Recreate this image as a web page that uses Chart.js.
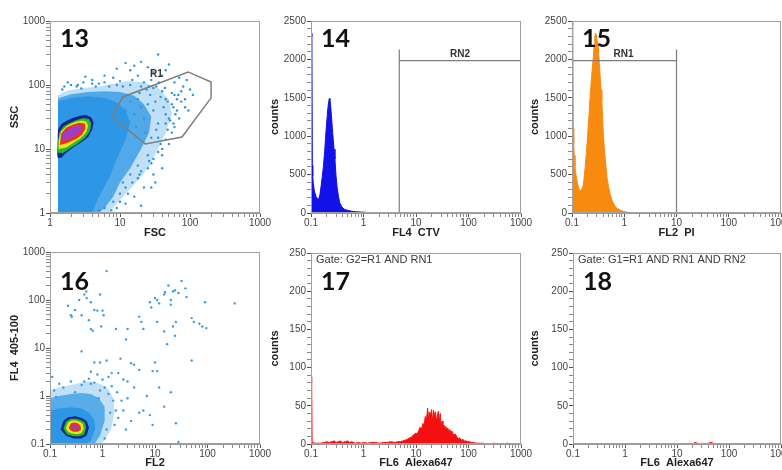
<!DOCTYPE html>
<html>
<head>
<meta charset="utf-8">
<script src="https://cdn.jsdelivr.net/npm/chart.js@4.4.1/dist/chart.umd.min.js"></script>
<style>
  html, body { margin: 0; padding: 0; background: #fff; overflow: hidden; width: 782px; height: 470px; position: relative; }
  canvas { position: absolute; }
</style>
</head>
<body>
<canvas id="c13" width="280" height="240" style="left:0px;top:0px"></canvas>
<canvas id="c14" width="280" height="240" style="left:260px;top:0px"></canvas>
<canvas id="c15" width="290" height="240" style="left:520px;top:0px"></canvas>
<canvas id="c16" width="280" height="230" style="left:0px;top:240px"></canvas>
<canvas id="c17" width="280" height="230" style="left:260px;top:240px"></canvas>
<canvas id="c18" width="290" height="230" style="left:520px;top:240px"></canvas>
<script>
// tick labels
var decadeValues = [0.1, 1, 10, 100, 1000];
var decadeLabels = ['0.1', '1', '10', '100', '1000'];
var countLabelsTop = [0, 500, 1000, 1500, 2000, 2500];
var countLabelsBottom = [0, 50, 100, 150, 200, 250];

// panel 13: FSC / SSC dot plot (density regions as outlines, sparse events as dots)
var fscSscOuter = [[1.3,1],[1.3,70],[1.8,82],[3,90],[5,95],[8,105],[13,115],[22,110],[35,90],[50,60],[55,35],[45,18],[35,10],[25,5],[17,3],[11,1.8],[8,1.2],[7,1],[1.3,1]];
var fscSscMid = [[1.3,1],[1.3,62],[2,72],[3.5,78],[6,80],[10,78],[16,68],[22,50],[28,32],[26,18],[20,10],[14,5],[10,3],[8,1.8],[6,1.2],[5,1],[1.3,1]];
var fscSscInner = [[1.3,1],[1.3,55],[2,63],[3.5,67],[6,63],[9,54],[12,40],[14,26],[12,14],[9,7],[7,3.5],[5,1.8],[4,1],[1.3,1]];
var fscSscNavy = [[1.27,8],[1.3,7.2],[1.45,7.3],[1.7,8.7],[2.2,10.7],[2.8,12.7],[3.5,15.2],[4.0,20],[4.2,26],[3.9,31],[3.3,34],[2.7,33],[2.1,30.5],[1.7,27.5],[1.45,24.5],[1.3,20],[1.27,14],[1.27,8]];
var fscSscGreen = [[1.3,8.8],[1.5,8.6],[1.9,10.1],[2.5,12.2],[3.2,15],[3.7,19],[3.9,25],[3.6,29.5],[3.0,30.5],[2.4,28.5],[1.9,25.5],[1.55,22.5],[1.35,18],[1.3,12],[1.3,8.8]];
var fscSscYellow = [[1.33,10],[1.7,10.6],[2.2,12.6],[2.8,15],[3.3,18.5],[3.5,23],[3.3,27],[2.8,28],[2.2,26],[1.75,23],[1.45,19],[1.33,14],[1.33,10]];
var fscSscRed = [[1.38,11.5],[1.8,12.5],[2.4,14.5],[2.9,17],[3.2,21],[3.15,25],[2.6,25.8],[2.1,24],[1.7,21.5],[1.45,17.5],[1.38,11.5]];
var fscSscViolet = [[1.45,13.5],[1.9,14.3],[2.4,16.5],[2.8,19.5],[2.85,23.5],[2.4,23.5],[2.0,21.5],[1.7,19.5],[1.5,17],[1.45,13.5]];
var fscSscDots = [[2,100],[2.4,95],[3,110],[4,120],[5,105],[6,140],[8,130],[9,180],[12,220],[14,170],[16,200],[20,230],[25,190],[28,120],[30,160],[35,300],[40,140],[45,170],[50,210],[60,110],[70,130],[80,95],[90,120],[100,85],[110,70],[3.2,135],[1.8,110],[7,95],[10,115],[18,140],[22,110],[33,95],[55,75],[65,60],[75,55],[85,45],[95,40],[1.5,85],[2.8,88],[4.5,95],[11,95],[15,120],[26,95],
  [8,1.5],[10,2],[12,2.5],[15,3],[18,3.5],[20,4.5],[25,5],[28,6],[30,7],[35,9],[40,10],[45,14],[50,12],[55,18],[60,22],[40,5],[30,4],[22,2.5],[16,1.8],[12,1.4],[9,1.2],[70,30],[45,25],[35,15],[25,8],[18,5.5],[14,4],[11,3],[6,1.2],[20,1.3],[28,2.5],[5,1.1],[40,8],[50,30],[65,40],[32,3],
  [12,40],[14,55],[16,35],[18,60],[20,45],[22,30],[25,50],[27,70],[30,40],[32,55],[35,25],[38,65],[42,45],[45,35],[48,55],[52,28],[58,45],[62,35],[40,80],[30,90],[24,85],[19,75],[13,70],[17,22],[23,18],[28,15],[33,20],[45,60],[55,50],[68,70],
  [9,100],[6,110],[4,105],[2.5,100],[1.6,95],[14,100],[20,95],[36,110],[44,90],[60,70],[75,80],[85,60],[58,25],[48,20],[38,12],[26,6.5],[19,4],[13,2],[10,1.5],[7.5,1.1]];
var r1Gate = [[7.6,32],[11,65],[94,160],[200,111],[200,63],[77,15.4],[23,12],[7.6,32]];

// panel 14: FL4 CTV histogram
var ctvBins = [0.1, 0.104, 0.106, 0.108, 0.11, 0.115, 0.12, 0.125, 0.132, 0.14, 0.148, 0.155, 0.163, 0.172, 0.182, 0.19, 0.2, 0.208, 0.216, 0.223, 0.23, 0.238, 0.246, 0.255, 0.265, 0.275, 0.286, 0.3, 0.315, 0.33, 0.35, 0.384, 0.43, 0.48, 0.55, 0.63, 0.75, 0.9, 1.05, 1.2, 1.35, 1.5];
var ctvCounts = [2340, 2300, 620, 480, 400, 300, 250, 210, 190, 180, 240, 340, 460, 600, 800, 1000, 1200, 1340, 1440, 1490, 1470, 1380, 1250, 1100, 960, 830, 700, 480, 330, 240, 140, 82, 50, 38, 28, 20, 15, 12, 10, 6, 3, 0];
var rn2Gate = [[4.8,0],[4.8,2130],[4.8,1983],[1000,1983],[1000,2130],[1000,0]];

// panel 15: FL2 PI histogram
var piBins = [0.1, 0.104, 0.106, 0.108, 0.11, 0.114, 0.12, 0.126, 0.132, 0.138, 0.143, 0.15, 0.158, 0.165, 0.172, 0.18, 0.19, 0.2, 0.21, 0.22, 0.23, 0.24, 0.25, 0.257, 0.265, 0.273, 0.28, 0.288, 0.296, 0.305, 0.32, 0.336, 0.348, 0.36, 0.372, 0.386, 0.4, 0.415, 0.43, 0.45, 0.47, 0.5, 0.54, 0.58, 0.62, 0.68, 0.75, 0.84, 0.95, 1.1, 1.3, 1.6];
var piCounts = [2480, 2450, 1100, 911, 750, 603, 480, 400, 343, 300, 280, 300, 330, 365, 480, 620, 820, 1030, 1250, 1470, 1650, 1820, 1960, 2035, 2180, 2290, 2340, 2320, 2280, 2230, 2150, 1900, 1750, 1600, 1470, 1220, 1000, 850, 733, 580, 450, 343, 240, 170, 126, 80, 55, 39, 22, 12, 5, 0];
var rn1Gate = [[0.1,2130],[0.1,1983],[10,1983],[10,2130],[10,0]];

// panel 16: FL2 / FL4 405-100 dot plot
var fl2Fl4Outer = [[0.1,0.1],[0.1,1.3],[0.15,1.5],[0.25,1.7],[0.4,1.9],[0.6,2.0],[0.9,1.8],[1.3,1.4],[1.6,0.9],[1.7,0.45],[1.45,0.2],[1.1,0.12],[0.9,0.1],[0.1,0.1]];
var fl2Fl4Mid = [[0.1,0.1],[0.1,0.9],[0.15,1.0],[0.25,1.1],[0.4,1.15],[0.6,1.1],[0.85,0.9],[1.1,0.6],[1.1,0.3],[0.9,0.15],[0.7,0.1],[0.1,0.1]];
var fl2Fl4Inner = [[0.1,0.1],[0.1,0.5],[0.15,0.55],[0.25,0.58],[0.4,0.55],[0.55,0.45],[0.7,0.32],[0.72,0.2],[0.6,0.12],[0.5,0.1],[0.1,0.1]];
var fl2Fl4Navy = [[0.16,0.2],[0.18,0.3],[0.22,0.36],[0.3,0.38],[0.4,0.35],[0.5,0.3],[0.55,0.22],[0.5,0.15],[0.4,0.13],[0.28,0.13],[0.2,0.15],[0.16,0.2]];
var fl2Fl4Green = [[0.18,0.21],[0.2,0.29],[0.24,0.33],[0.3,0.34],[0.38,0.32],[0.46,0.28],[0.49,0.22],[0.45,0.16],[0.37,0.145],[0.28,0.145],[0.21,0.16],[0.18,0.21]];
var fl2Fl4Yellow = [[0.2,0.21],[0.22,0.28],[0.26,0.31],[0.31,0.31],[0.37,0.29],[0.42,0.26],[0.44,0.21],[0.4,0.17],[0.33,0.16],[0.26,0.165],[0.22,0.18],[0.2,0.21]];
var fl2Fl4Red = [[0.23,0.22],[0.25,0.27],[0.29,0.28],[0.34,0.27],[0.38,0.24],[0.39,0.2],[0.34,0.18],[0.28,0.18],[0.24,0.195],[0.23,0.22]];
var fl2Fl4Violet = [[0.26,0.22],[0.28,0.25],[0.31,0.255],[0.35,0.24],[0.35,0.21],[0.31,0.2],[0.27,0.205],[0.26,0.22]];
var fl2Fl4Dots = [[1.2,400],[0.49,150],[0.22,76],[0.25,48],[0.26,45],[0.3,62],[0.36,100],[0.4,48],[0.45,130],[0.5,110],[0.55,38],[0.6,25],[0.65,23],[0.7,62],[0.8,60],[0.9,130],[1.0,60],[1.05,48],[0.95,28],[0.6,90],
  [5,45],[5.5,35],[6,25],[8,90],[8.5,70],[10,110],[11,100],[11,35],[12,85],[15,130],[15.5,145],[18,200],[20,100],[20,80],[22,150],[24,160],[25,35],[28,140],[32,250],[38,175],[40,115],[50,42],[55,35],[70,32],[80,28],[90,90],[95,26],[330,85],[15,22],[22,28],[17,12],[24,18],
  [3,25],[2.8,15],[0.4,8.5],[1.8,25],[0.9,5],[0.7,5],[1.2,5.5],[2.2,6],[3.5,4.8],[4,4.5],[5,3.5],[10,5],[11,3.3],[15,0.6],[25,0.27],[28,0.11],[50,5.5],[12,1.5],[7,1],[8,0.4],[3,2],[2,3],[2.5,2.2],[1.5,3],[1.3,2.5],[4,1.5],[6,0.5],[3.5,0.3],[5,0.45],[9,0.25],[0.8,2.8],[0.6,3.2],[20,1.2],[9,3.3],
  [0.12,1.3],[0.15,1.8],[0.18,1.5],[0.25,2],[0.3,1.2],[0.45,2],[0.55,2.3],[0.6,1.8],[0.7,1.9],[0.9,1.3],[1.1,1.5],[1.3,1.1],[1.6,0.8],[1.8,0.5],[2,0.35],[1.7,0.25],[1.2,0.2],[1.5,1.6],[1.9,1.2],[2.3,0.8],[0.11,2.5],[0.13,0.95],[0.4,1.7],[1.0,2.2],[0.85,0.9],[1.4,0.45],[2.5,0.5],[3,0.9],[2.8,0.2],[1.1,0.13]];

// panel 17: FL6 Alexa647, gate G2
var alexaBinsG2 = [0.1, 0.103, 0.105, 0.12, 0.15, 0.18, 0.2, 0.22, 0.25, 0.28, 0.3, 0.33, 0.36, 0.4, 0.45, 0.5, 0.55, 0.6, 0.7, 0.8, 0.9, 1, 1.2, 1.4, 1.7, 2, 2.4, 2.8, 3.3, 4, 4.5,
  5, 5.6, 6.2, 6.8, 7.5, 8.2, 9, 9.8, 10.5, 11.3, 12, 12.8, 13.5, 14.3, 15, 15.8, 16.6, 17.4, 18.2, 19, 19.8, 20.7, 21.6, 22.5, 23.5, 24.5, 25.5, 26.6, 27.7, 28.9, 30, 31.3, 32.6, 34, 35.5, 37, 38.6, 40.2, 42, 44, 46, 48, 50, 53, 56, 60, 64, 68, 73, 78, 84, 90, 97, 105, 115, 125, 140, 160, 190, 230, 300, 400, 550, 750, 1000];
var alexaCountsG2 = [88, 80, 2, 1, 1, 2, 3, 2, 3, 4, 2, 3, 4, 2, 3, 4, 2, 3, 1, 2, 1, 2, 1, 2, 2, 1, 2, 2, 3, 2, 3,
  3, 4, 5, 6, 8, 9, 12, 14, 13, 18, 22, 20, 27, 24, 36, 30, 47, 33, 42, 38, 45, 29, 44, 37, 42, 30, 36, 43, 28, 40, 23, 30, 21, 25, 19, 23, 17, 21, 16, 19, 15, 17, 14, 12, 13, 9, 7, 8, 5, 6, 4, 4, 3, 3, 2, 2, 1, 1, 1, 0, 1, 0, 1, 0, 0];

// panel 18: FL6 Alexa647, gate G1
var alexaBinsG1 = [0.1, 1, 10, 15, 18, 20, 22, 25, 28, 30, 35, 40, 45, 50, 55, 60, 100, 1000];
var alexaCountsG1 = [0, 0, 0, 0, 1, 0, 2, 1, 0, 1, 0, 1, 2, 1, 0, 0, 0, 0];

var FONT = "'Liberation Sans', Arial, sans-serif";
Chart.defaults.font.family = FONT;
Chart.defaults.animation = false;
Chart.defaults.events = [];

function pts(pairs) { return pairs.map(function (p) { return { x: p[0], y: p[1] }; }); }
function zip(xs, ys) {
  var n = Math.min(xs.length, ys.length), out = [];
  for (var i = 0; i < n; i++) out.push({ x: xs[i], y: ys[i] });
  return out;
}
function decadeIndex(v) {
  for (var i = 0; i < decadeValues.length; i++) if (Math.abs(v - decadeValues[i]) / decadeValues[i] < 1e-6) return i;
  return -1;
}
function wholeSignificand(v) {
  var s = v / Math.pow(10, Math.floor(Math.log10(v) + 1e-9));
  return Math.abs(s - Math.round(s)) < 1e-6;
}
function fixSize(isY, size) {
  return function (s) {
    if (isY) s.width = size; else s.height = size;
    s.paddingLeft = s.paddingRight = s.paddingTop = s.paddingBottom = 0;
  };
}
function axisTitle(text, isY) {
  return { display: true, text: text, color: '#222', font: { size: 11, weight: 'bold' },
           padding: isY ? { top: 8, bottom: 0 } : { top: 0, bottom: 0 } };
}
var tickGrid = {
  drawOnChartArea: false, tickLength: 4, tickWidth: 1,
  tickColor: function (c) { return c.tick && c.tick.major ? '#555' : '#8a8a8a'; }
};

function logAxis(min, title, isY, size) {
  return {
    type: 'logarithmic', min: min, max: 1000,
    afterBuildTicks: function (s) {
      s.ticks = s.ticks.filter(function (t) { return wholeSignificand(t.value); })
                       .map(function (t) { return { value: t.value, major: decadeIndex(t.value) >= 0 }; });
    },
    afterFit: fixSize(isY, size),
    ticks: { autoSkip: false, maxRotation: 0, padding: isY ? 1 : 0, color: '#444', font: { size: 10 },
             callback: function (v) { var i = decadeIndex(v); return i < 0 ? '' : decadeLabels[i]; } },
    grid: tickGrid,
    border: { color: '#999' },
    title: axisTitle(title, isY)
  };
}
function countAxis(max, step, labels, size) {
  return {
    type: 'linear', min: 0, max: max,
    afterFit: fixSize(true, size),
    ticks: { stepSize: step, maxTicksLimit: 100, autoSkip: false, padding: 1, color: '#444', font: { size: 10 },
             callback: function (v) { return labels.indexOf(v) >= 0 ? String(v) : ''; } },
    afterBuildTicks: function (s) {
      s.ticks = s.ticks.map(function (t) { return { value: t.value, major: labels.indexOf(t.value) >= 0 }; });
    },
    grid: tickGrid,
    border: { color: '#999' },
    title: axisTitle('counts', true)
  };
}

var panelPlugin = {
  id: 'panel',
  afterDraw: function (chart, args, o) {
    var ctx = chart.ctx, a = chart.chartArea, sc = chart.scales;
    ctx.save();
    ctx.strokeStyle = '#a0a0a0';
    ctx.lineWidth = 1;
    ctx.strokeRect(Math.round(a.left) + 0.5, Math.round(a.top) + 0.5, Math.round(a.right - a.left) - 1, Math.round(a.bottom - a.top) - 1);
    if (o.gate) {
      ctx.fillStyle = '#3a3a3a';
      ctx.font = "11px " + FONT;
      ctx.textAlign = 'left';
      ctx.textBaseline = 'middle';
      ctx.fillText(o.gate, a.left + 5, a.top + 7);
    }
    (o.tags || []).forEach(function (t) {
      ctx.fillStyle = '#333';
      ctx.font = "bold 10px " + FONT;
      ctx.textAlign = 'center';
      ctx.textBaseline = 'middle';
      ctx.fillText(t.text, sc.x.getPixelForValue(t.x), sc.y.getPixelForValue(t.y));
    });
    ctx.fillStyle = '#111';
    ctx.font = "bold 25px Lato, 'Open Sans', sans-serif";
    ctx.textAlign = 'left';
    ctx.textBaseline = 'alphabetic';
    ctx.fillText(o.number, a.left + 10, a.top + o.numberDy);
    ctx.restore();
  }
};

function region(pairs, color) {
  return { type: 'line', data: pts(pairs), fill: 'shape', backgroundColor: color, borderWidth: 0,
           borderColor: color, pointRadius: 0, tension: 0 };
}
function gateLine(pairs, width) {
  return { type: 'line', data: pts(pairs), fill: false, borderColor: '#7d7d7d', borderWidth: width,
           pointRadius: 0, tension: 0 };
}
function dots(pairs, color) {
  return { type: 'scatter', data: pts(pairs), backgroundColor: color, borderWidth: 0, pointRadius: 1.2 };
}
function histo(xs, ys, color) {
  return { type: 'line', data: zip(xs, ys), fill: 'origin', backgroundColor: color, borderColor: color,
           borderWidth: 1, pointRadius: 0, tension: 0 };
}

function baseOptions(pad, xAxis, yAxis, panel) {
  return {
    responsive: false,
    layout: { padding: pad },
    plugins: { legend: { display: false }, tooltip: { enabled: false }, panel: panel },
    scales: { x: xAxis, y: yAxis }
  };
}

// 13
new Chart(document.getElementById('c13'), {
  type: 'scatter',
  data: { datasets: [
    gateLine(r1Gate, 1.5),
    region(fscSscViolet, '#a33cc4'),
    region(fscSscRed, '#e8331e'),
    region(fscSscYellow, '#f2e21c'),
    region(fscSscGreen, '#1fbf2c'),
    region(fscSscNavy, '#16208e'),
    dots(fscSscDots, '#2b95e0'),
    region(fscSscInner, '#2d97e6'),
    region(fscSscMid, 'rgba(45,151,230,0.75)'),
    region(fscSscOuter, 'rgba(45,151,230,0.3)')
  ] },
  options: baseOptions({ top: 21, right: 20, left: 0, bottom: 0 },
    logAxis(1, 'FSC', false, 27), logAxis(1, 'SSC', true, 50),
    { number: '13', numberDy: 26, tags: [{ text: 'R1', x: 33, y: 148 }] }),
  plugins: [panelPlugin]
});

// 14
new Chart(document.getElementById('c14'), {
  type: 'line',
  data: { datasets: [
    gateLine(rn2Gate, 1.2),
    histo(ctvBins, ctvCounts, '#1212e8')
  ] },
  options: baseOptions({ top: 21, right: 19, left: 0, bottom: 0 },
    logAxis(0.1, 'FL4  CTV', false, 27), countAxis(2500, 100, countLabelsTop, 51),
    { number: '14', numberDy: 26, tags: [{ text: 'RN2', x: 69, y: 2070 }] }),
  plugins: [panelPlugin]
});

// 15
new Chart(document.getElementById('c15'), {
  type: 'line',
  data: { datasets: [
    gateLine(rn1Gate, 1.2),
    histo(piBins, piCounts, '#f98a10')
  ] },
  options: baseOptions({ top: 21, right: 29, left: 0, bottom: 0 },
    logAxis(0.1, 'FL2  PI', false, 27), countAxis(2500, 100, countLabelsTop, 52),
    { number: '15', numberDy: 26, tags: [{ text: 'RN1', x: 0.97, y: 2070 }] }),
  plugins: [panelPlugin]
});

// 16
new Chart(document.getElementById('c16'), {
  type: 'scatter',
  data: { datasets: [
    region(fl2Fl4Violet, '#a33cc4'),
    region(fl2Fl4Red, '#e8331e'),
    region(fl2Fl4Yellow, '#f2e21c'),
    region(fl2Fl4Green, '#1fbf2c'),
    region(fl2Fl4Navy, '#16208e'),
    dots(fl2Fl4Dots, '#3a9ce4'),
    region(fl2Fl4Inner, '#2d97e6'),
    region(fl2Fl4Mid, 'rgba(45,151,230,0.7)'),
    region(fl2Fl4Outer, 'rgba(45,151,230,0.3)')
  ] },
  options: baseOptions({ top: 12, right: 20, left: 0, bottom: 0 },
    logAxis(0.1, 'FL2', false, 26), logAxis(0.1, 'FL4  405-100', true, 50),
    { number: '16', numberDy: 38 }),
  plugins: [panelPlugin]
});

// 17
new Chart(document.getElementById('c17'), {
  type: 'line',
  data: { datasets: [ histo(alexaBinsG2, alexaCountsG2, '#f41010') ] },
  options: baseOptions({ top: 13, right: 19, left: 0, bottom: 0 },
    logAxis(0.1, 'FL6  Alexa647', false, 26), countAxis(250, 10, countLabelsBottom, 51),
    { number: '17', numberDy: 37, gate: 'Gate: G2=R1 AND RN1' }),
  plugins: [panelPlugin]
});

// 18
new Chart(document.getElementById('c18'), {
  type: 'line',
  data: { datasets: [ histo(alexaBinsG1, alexaCountsG1, '#f41010') ] },
  options: baseOptions({ top: 13, right: 29, left: 0, bottom: 0 },
    logAxis(0.1, 'FL6  Alexa647', false, 26), countAxis(250, 10, countLabelsBottom, 53),
    { number: '18', numberDy: 37, gate: 'Gate: G1=R1 AND RN1 AND RN2' }),
  plugins: [panelPlugin]
});
</script>
</body>
</html>
